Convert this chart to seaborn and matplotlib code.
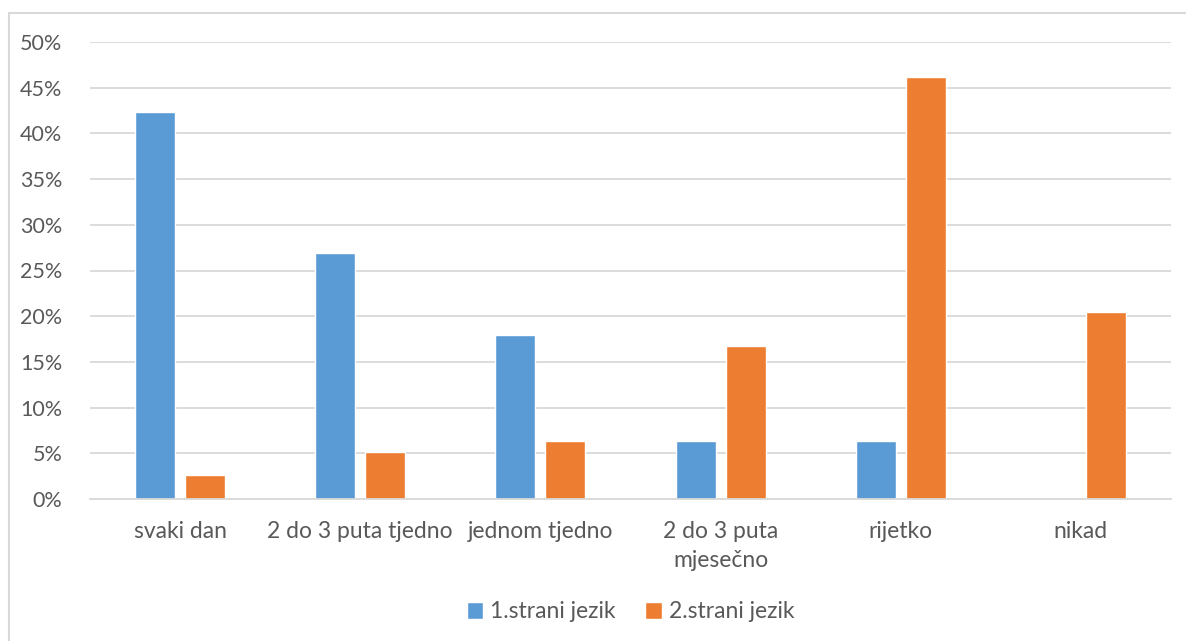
import matplotlib
matplotlib.use("Agg")
import matplotlib.pyplot as plt
import matplotlib.patches as mpatches
import seaborn as sns
import pandas as pd

categories = ["svaki dan", "2 do 3 puta tjedno", "jednom tjedno",
              "2 do 3 puta\nmjesečno", "rijetko", "nikad"]
series_names = ["1.strani jezik", "2.strani jezik"]
first_lang = [0.423, 0.269, 0.179, 0.064, 0.064, 0.0]
second_lang = [0.026, 0.051, 0.064, 0.167, 0.462, 0.205]
y_ticks = [0.0, 0.05, 0.10, 0.15, 0.20, 0.25, 0.30, 0.35, 0.40, 0.45, 0.50]

df = pd.DataFrame({
    "kategorija": categories * 2,
    "jezik": [series_names[0]] * len(categories) + [series_names[1]] * len(categories),
    "udio": first_lang + second_lang,
})

sns.set_theme(style="white")
plt.rcParams["font.family"] = ["Lato", "DejaVu Sans"]
text_color = "#595959"
grid_color = "#D9D9D9"
fs = 16.5

W, H = 1186, 641
fig = plt.figure(figsize=(W / 100, H / 100), dpi=100)
ax = fig.add_axes([90 / W, (H - 499) / H, (1171 - 90) / W, (499 - 42) / H])

sns.barplot(data=df, x="kategorija", y="udio", hue="jezik", order=categories,
            hue_order=series_names, palette=["#5B9BD5", "#ED7D31"],
            width=0.556, gap=0.2, ax=ax, legend=True, saturation=1)

ax.set_ylim(0, 0.5)
ax.set_xlim(-0.5, len(categories) - 0.5)
ax.set_yticks(y_ticks)
ax.set_yticklabels([f"{int(round(t * 100))}%" for t in y_ticks])
ax.yaxis.grid(True, color=grid_color, linewidth=1.3)
ax.set_axisbelow(True)
for s in ["top", "right", "left"]:
    ax.spines[s].set_visible(False)
ax.spines["bottom"].set_color(grid_color)
ax.spines["bottom"].set_linewidth(1.3)
ax.set_xlabel("")
ax.set_ylabel("")
ax.tick_params(axis="y", length=0, pad=20, labelsize=15.5, labelcolor=text_color)
ax.tick_params(axis="x", length=0, pad=16, labelsize=fs, labelcolor=text_color)
for lbl in ax.get_xticklabels():
    lbl.set_linespacing(1.45)

leg = ax.legend(loc="center", bbox_to_anchor=(0.5, (499 - 612) / (499 - 42)),
                bbox_transform=ax.transAxes, ncol=2, frameon=False, fontsize=fs,
                handlelength=0.72, handleheight=0.72, handletextpad=0.3, columnspacing=1.3)
for t in leg.get_texts():
    t.set_color(text_color)

# outer chart border
fig.patches.append(mpatches.Rectangle((9 / W, -0.1), 1.2, (H - 13) / H + 0.1,
                                      transform=fig.transFigure, fill=False,
                                      edgecolor=grid_color, linewidth=1.5))

fig.savefig("out.png", dpi=100)
